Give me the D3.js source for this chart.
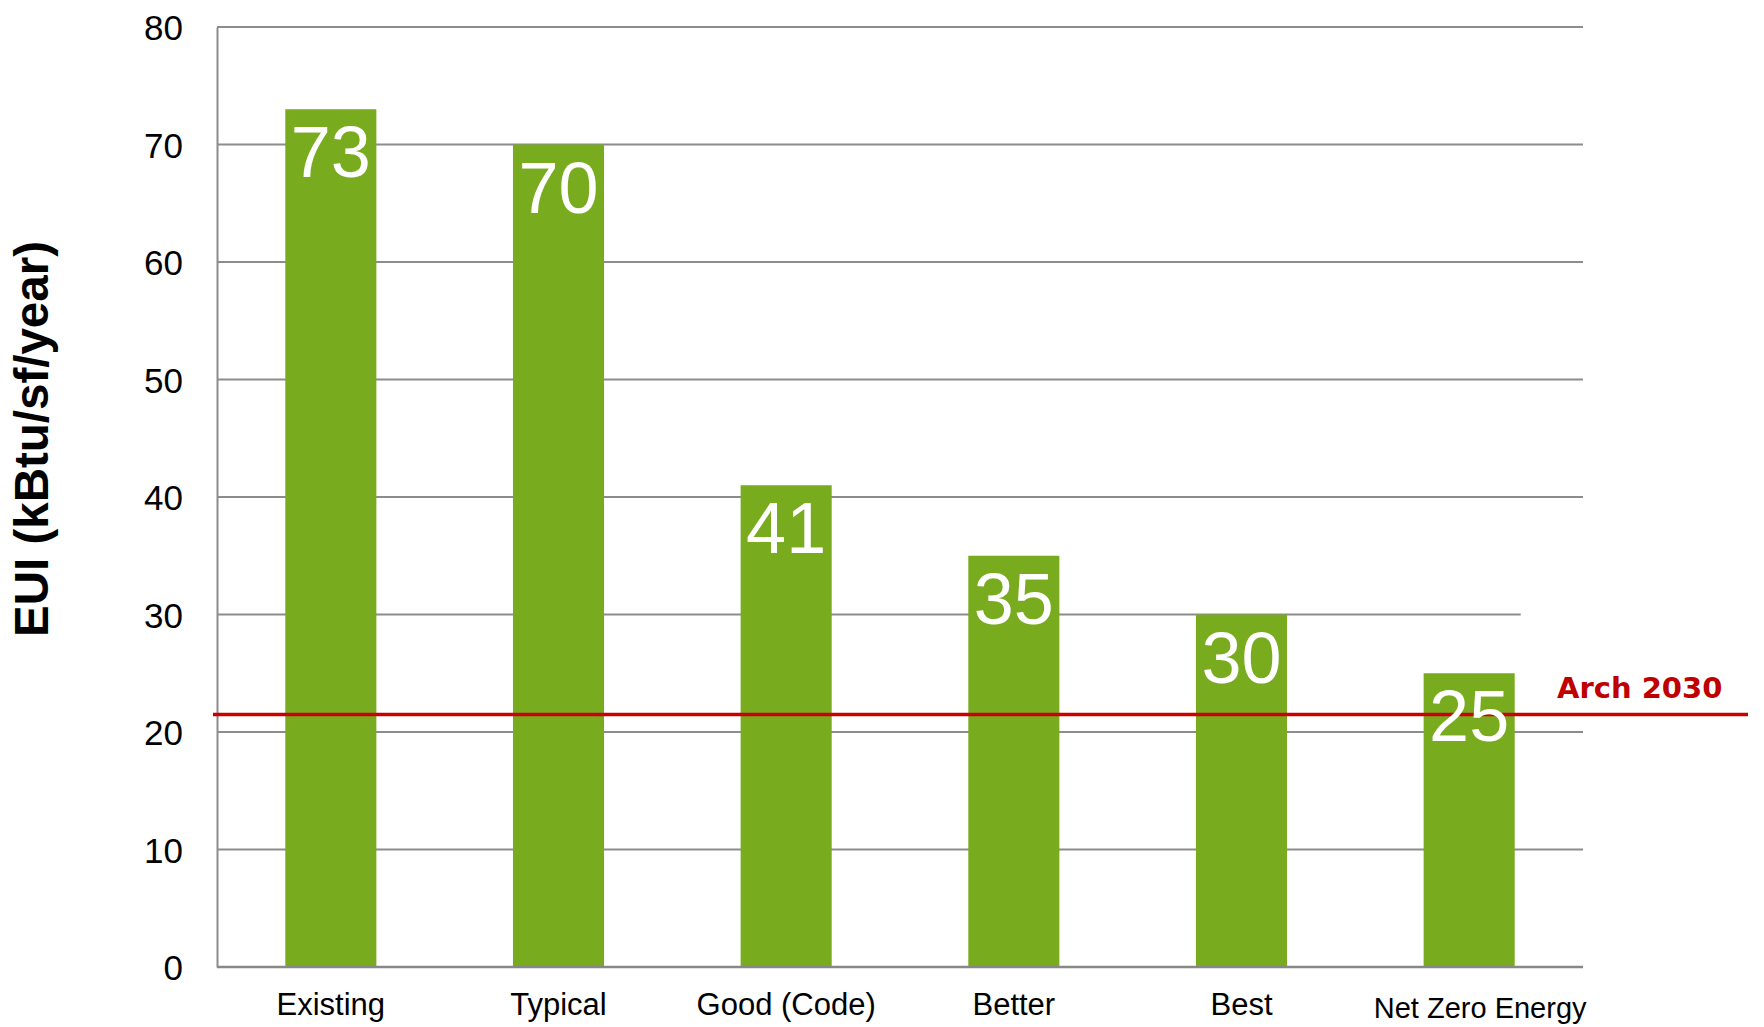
<!DOCTYPE html>
<html>
<head>
<meta charset="utf-8">
<script src="https://cdn.jsdelivr.net/npm/d3@7"></script>
<style>
  html, body { margin: 0; padding: 0; background: #ffffff; }
  svg { display: block; }
  .tick-label { font-family: "Liberation Sans", Arial, sans-serif; font-size: 35px; fill: #000; }
  .cat-label { font-family: "Liberation Sans", Arial, sans-serif; fill: #000; }
  .value-label { font-family: "Liberation Sans", Arial, sans-serif; font-size: 72px; fill: #fff; }
  .axis-title { font-family: "Liberation Sans", Arial, sans-serif; font-size: 47.5px; font-weight: bold; fill: #000; }
  .target-label { font-family: "DejaVu Sans", Verdana, sans-serif; font-size: 29px; font-weight: bold; fill: #c00000; }
</style>
</head>
<body>
<svg id="chart" width="1764" height="1027"></svg>
<script>
// Energy use intensity by performance level
const categories = ["Existing", "Typical", "Good (Code)", "Better", "Best", "Net Zero Energy"];
const euiValues = [73, 70, 41, 35, 30, 25];
const yTicks = [0, 10, 20, 30, 40, 50, 60, 70, 80];
const targetValue = 21.5;
const targetName = "Arch 2030";
const yTitle = "EUI (kBtu/sf/year)";

const svg = d3.select("#chart");
const plot = { left: 217, right: 1583, top: 27, bottom: 967 };

const x = d3.scaleBand()
  .domain(categories)
  .range([plot.left, plot.right])
  .paddingInner(0.6)
  .paddingOuter(0.3);

const y = d3.scaleLinear()
  .domain([0, 80])
  .range([plot.bottom, plot.top]);

const gridColor = "#8c8c8c";

// horizontal gridlines
svg.append("g")
  .selectAll("line")
  .data(yTicks.filter(t => t > 0))
  .join("line")
  .attr("x1", plot.left)
  .attr("x2", d => d === 30 ? x("Net Zero Energy") + x.bandwidth() + 6 : plot.right)
  .attr("y1", d => y(d))
  .attr("y2", d => y(d))
  .attr("stroke", gridColor)
  .attr("stroke-width", 2);

// y axis labels
const yAxis = d3.axisLeft(y).tickValues(yTicks).tickSize(0).tickPadding(34).tickFormat(d3.format("d"));
const gy = svg.append("g").attr("transform", `translate(${plot.left},0)`).call(yAxis);
gy.select(".domain").attr("stroke", gridColor).attr("stroke-width", 2);
gy.selectAll(".tick text").attr("class", "tick-label").attr("fill", null)
  .attr("font-family", null).attr("font-size", null).attr("dy", "0.36em");
gy.attr("font-family", null).attr("font-size", null);

// bars
svg.append("g")
  .selectAll("rect")
  .data(categories.map((c, i) => ({ c, v: euiValues[i] })))
  .join("rect")
  .attr("x", d => x(d.c))
  .attr("width", x.bandwidth())
  .attr("y", d => y(d.v))
  .attr("height", d => y(0) - y(d.v))
  .attr("fill", "#78ac1e");

// baseline
svg.append("line")
  .attr("x1", plot.left).attr("x2", plot.right)
  .attr("y1", y(0)).attr("y2", y(0))
  .attr("stroke", "#888888").attr("stroke-width", 2.5);

// target line
svg.append("line")
  .attr("x1", plot.left - 4).attr("x2", 1748)
  .attr("y1", y(targetValue)).attr("y2", y(targetValue))
  .attr("stroke", "#cc0000").attr("stroke-width", 3.5);

svg.append("text")
  .attr("class", "target-label")
  .attr("x", 1557)
  .attr("y", y(targetValue) - 16)
  .text(targetName);

// value labels inside bars
svg.append("g")
  .selectAll("text")
  .data(categories.map((c, i) => ({ c, v: euiValues[i] })))
  .join("text")
  .attr("class", "value-label")
  .attr("text-anchor", "middle")
  .attr("x", d => x(d.c) + x.bandwidth() / 2)
  .attr("y", d => y(d.v) + 68)
  .text(d => d.v);

// category labels, shrinking any that nearly fill their band
const catG = svg.append("g");
catG.selectAll("text")
  .data(categories)
  .join("text")
  .attr("class", "cat-label")
  .attr("text-anchor", "middle")
  .attr("x", d => x(d) + x.bandwidth() / 2)
  .attr("y", 1015)
  .attr("font-size", 31)
  .text(d => d)
  .each(function () {
    const w = this.getComputedTextLength();
    if (w > x.step() * 0.9) {
      d3.select(this).attr("font-size", 29).attr("y", 1018).attr("dx", 11);
    }
  });

// y axis title
svg.append("text")
  .attr("class", "axis-title")
  .attr("transform", "translate(48,439) rotate(-90)")
  .attr("text-anchor", "middle")
  .text(yTitle);
</script>
</body>
</html>
